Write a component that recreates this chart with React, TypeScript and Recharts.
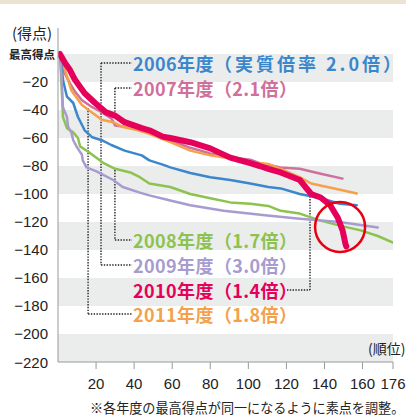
import React from 'react';
import { LineChart, Line, XAxis, YAxis, ReferenceArea, ReferenceLine, ReferenceDot } from 'recharts';

// [順位, 得点]
const y2006: [number, number][] = [
  [1, 0], [2, -10], [2.6, -18.6], [4.7, -30.5], [8, -35], [10.5, -45], [14, -54.5], [18, -59.5],
  [23, -61.6], [28, -65], [35, -69], [44, -72.4], [48, -76], [55, -79], [59, -81], [69.5, -85],
  [80, -88], [90.5, -90], [101, -92.5], [110.5, -95], [117, -96], [127, -100], [138, -103],
  [148, -107], [157, -108],
];
const y2007: [number, number][] = [
  [1, 0], [2, -9], [4, -15], [6.3, -21], [9, -27], [12.6, -33], [18, -38], [23, -41.6], [28, -46],
  [30, -51], [35, -52], [44, -54.5], [51, -57], [59, -61.6], [69.5, -67], [80, -71], [90.5, -73.8],
  [101, -75.5], [106, -78], [117, -81], [127, -82], [138, -85.5], [149.5, -89],
];
const y2008: [number, number][] = [
  [1, 0], [1.5, -8], [2, -26], [2.6, -45], [4.7, -53], [8, -56], [10.5, -60], [11.6, -66], [15, -69],
  [20, -74], [24, -78], [30, -82], [38, -84.6], [43, -88], [48, -92.5], [59, -95], [69.5, -100],
  [80, -103], [90.5, -106], [101, -107], [110.5, -108.5], [117, -112], [127, -114], [138, -119],
  [148, -122.6], [159, -126], [168, -130], [176, -134.8],
];
const y2009: [number, number][] = [
  [1, 0], [1.5, -10], [2, -21], [2.6, -38], [4.7, -45], [5.3, -52], [7, -56], [8, -61.6], [10, -66.7],
  [12.6, -72], [13, -76], [15, -81], [20.5, -84], [29, -90], [34, -95], [43, -99], [48, -101],
  [59, -104.6], [69.5, -108], [87, -112], [110, -115.4], [127, -117.6], [148, -120], [168, -124],
];
const y2010: [number, number][] = [
  [1, 0], [3.7, -6.5], [6.3, -11.5], [9, -18.6], [14, -28], [19.5, -35], [25, -41.5], [30, -44],
  [35, -48.7], [44, -53], [48, -54.5], [55, -59], [59, -60], [69.5, -63], [80, -67.4], [90.5, -74],
  [101, -78], [106, -80], [110.5, -82], [117, -84.6], [127, -90], [133, -100], [138, -102.5],
  [143, -108], [147, -117], [149.5, -126], [151, -135.5], [151.5, -137.5],
];
const y2011: [number, number][] = [
  [1, 0], [2, -5], [3.7, -11.5], [7, -26], [12.6, -36.5], [18, -42], [23, -47], [29, -48.7],
  [33.7, -52], [42, -54.5], [48, -57], [59, -63], [69.5, -69], [80, -72.4], [90.5, -74.6],
  [101, -77.4], [110.5, -78.5], [117, -82], [127, -88], [133, -92.5], [141.5, -95], [150, -97.5],
  [157, -99.6],
];

const xTicks = [20, 40, 60, 80, 100, 120, 140, 160, 176];
const yTicks = [0, -20, -40, -60, -80, -100, -120, -140, -160, -180, -200, -220];
const bands: [number, number][] = [[0, -20], [-40, -60], [-80, -100], [-120, -140], [-160, -180], [-200, -220]];

const labels = [
  { text: '2006年度', note: '（実質倍率 2.0倍）', color: '#3b87cc', top: 63, ls: 3 },
  { text: '2007年度', note: '（2.1倍）', color: '#cf6f9b', top: 88, ls: 0.4 },
  { text: '2008年度', note: '（1.7倍）', color: '#8cc34f', top: 240, ls: 0.4 },
  { text: '2009年度', note: '（3.0倍）', color: '#a79bd0', top: 265, ls: 0.4 },
  { text: '2010年度', note: '（1.4倍）', color: '#e5005a', top: 290, ls: 0.4 },
  { text: '2011年度', note: '（1.8倍）', color: '#f5a04a', top: 314, ls: 0.4 },
];

// leader lines, in chart units
const leaders: { x: number; y: number }[][] = [
  [{ x: 22.6, y: -6.4 }, { x: 38.9, y: -6.4 }],
  [{ x: 22.6, y: -6.4 }, { x: 22.6, y: -150.7 }],
  [{ x: 29.9, y: -24.3 }, { x: 38.9, y: -24.3 }],
  [{ x: 29.9, y: -24.3 }, { x: 29.9, y: -45 }],
  [{ x: 29.9, y: -82.9 }, { x: 29.9, y: -132.9 }],
  [{ x: 29.9, y: -132.9 }, { x: 38.9, y: -132.9 }],
  [{ x: 22.6, y: -150.7 }, { x: 38.9, y: -150.7 }],
  [{ x: 120.3, y: -168.6 }, { x: 132.4, y: -168.6 }],
  [{ x: 132.4, y: -168.6 }, { x: 132.4, y: -99.3 }],
  [{ x: 15.8, y: -38.6 }, { x: 15.8, y: -185.7 }],
  [{ x: 15.8, y: -185.7 }, { x: 38.9, y: -185.7 }],
];

const toRows = (pts: [number, number][]) => pts.map(([rank, score]) => ({ rank, score }));

const sans = '"Liberation Sans", Arial, sans-serif';
const jp = '"Noto Sans CJK JP", sans-serif';

const YTick = (props: any) => {
  const { x, y, payload } = props;
  if (payload.value === 0) {
    return (
      <text x={x + 7} y={y} textAnchor="end" dominantBaseline="central" fontSize={11.5} fontWeight={700} fontFamily={jp} fill="#222">
        最高得点
      </text>
    );
  }
  return (
    <text x={x} y={y} textAnchor="end" dominantBaseline="central" fontSize={15} fontFamily={sans} fill="#222">
      {'−' + Math.abs(payload.value)}
    </text>
  );
};

const series = [
  { key: '2007', pts: y2007, color: '#cf6f9b', w: 2.5 },
  { key: '2011', pts: y2011, color: '#f5a04a', w: 2.5 },
  { key: '2006', pts: y2006, color: '#3b87cc', w: 2.5 },
  { key: '2008', pts: y2008, color: '#8cc34f', w: 2.5 },
  { key: '2009', pts: y2009, color: '#a79bd0', w: 2.5 },
  { key: '2010', pts: y2010, color: '#e5005a', w: 6 },
];

export default function App() {
  return (
    <div style={{ position: 'absolute', left: 0, top: 0, width: 406, height: 417, background: '#fff', overflow: 'hidden' }}>
      <div style={{ position: 'absolute', left: 0, top: 0, width: 406, height: 4, background: '#ebe4d2' }} />
      <LineChart width={406} height={417} margin={{ top: 28, right: 13, bottom: 0, left: 0 }}>
        {bands.map(([a, b]) => (
          <ReferenceArea key={a} y1={a} y2={b} fill="#ebecec" fillOpacity={1} stroke="none" />
        ))}
        <XAxis
          type="number"
          dataKey="rank"
          domain={[0, 176]}
          ticks={xTicks}
          allowDataOverflow
          height={55}
          tickSize={7}
          tickMargin={9}
          axisLine={{ stroke: '#999' }}
          tickLine={{ stroke: '#999' }}
          tick={{ fontSize: 15, fill: '#222', fontFamily: sans }}
        />
        <YAxis
          type="number"
          domain={[-220, 18.57]}
          ticks={yTicks}
          allowDataOverflow
          width={58}
          tickSize={0}
          tickMargin={10}
          axisLine={{ stroke: '#999' }}
          tickLine={false}
          tick={<YTick />}
        />
        {leaders.map((seg, i) => (
          <ReferenceLine key={i} segment={seg} stroke="#222" strokeWidth={1.4} strokeDasharray="1.4 1.4" />
        ))}
        {series.map(s => (
          <Line
            key={s.key}
            data={toRows(s.pts)}
            dataKey="score"
            type="linear"
            stroke={s.color}
            strokeWidth={s.w}
            strokeLinejoin="round"
            strokeLinecap="round"
            dot={false}
            isAnimationActive={false}
          />
        ))}
        <ReferenceDot x={148.2} y={-123.6} r={25} fill="none" stroke="#e60012" strokeWidth={2.5} />
      </LineChart>
      {labels.map(l => (
        <div
          key={l.text}
          style={{
            position: 'absolute', left: 133, top: l.top, transform: 'translateY(-50%)',
            color: l.color, fontFamily: jp, fontWeight: 700, fontSize: 18, letterSpacing: 0.4,
            lineHeight: 1, whiteSpace: 'nowrap',
          }}
        >
          {l.text}
          <span style={{ letterSpacing: l.ls }}>{l.note}</span>
        </div>
      ))}
      <div style={{ position: 'absolute', left: 12, top: 32, transform: 'translateY(-50%)', fontFamily: jp, fontSize: 15, lineHeight: 1, color: '#222' }}>
        (得点)
      </div>
      <div style={{ position: 'absolute', left: 368, top: 348, transform: 'translateY(-50%)', fontFamily: jp, fontSize: 14, lineHeight: 1, color: '#222', whiteSpace: 'nowrap' }}>
        (順位)
      </div>
      <div style={{ position: 'absolute', left: 90, top: 408, transform: 'translateY(-50%)', fontFamily: jp, fontSize: 13.1, lineHeight: 1, color: '#222', whiteSpace: 'nowrap' }}>
        ※各年度の最高得点が同一になるように素点を調整。
      </div>
    </div>
  );
}
